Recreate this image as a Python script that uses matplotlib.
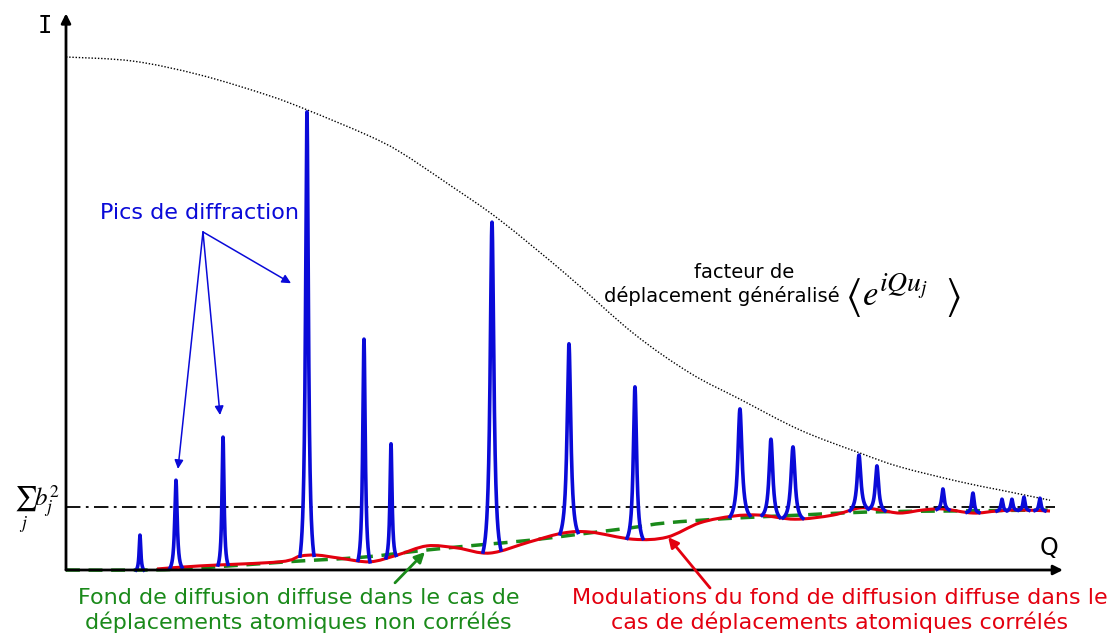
import numpy as np
import matplotlib
matplotlib.use("Agg")
import matplotlib.pyplot as plt
from matplotlib.path import Path
from matplotlib.patches import PathPatch

plt.rcParams['mathtext.fontset'] = 'stix'

# Bragg peaks: position Q, peak intensity, half width at the foot
peak_q = [0.742, 1.103, 1.575, 2.417, 2.989, 3.260, 4.273, 5.045, 5.707, 6.760,
          7.071, 7.292, 7.954, 8.134, 8.796, 9.097, 9.388, 9.488, 9.609, 9.769]
peak_i = [0.068, 0.175, 0.259, 0.893, 0.450, 0.246, 0.678, 0.441, 0.357, 0.314,
          0.255, 0.240, 0.224, 0.203, 0.158, 0.150, 0.138, 0.138, 0.142, 0.140]
peak_hw = [0.04, 0.06, 0.05, 0.07, 0.06, 0.05, 0.09, 0.09, 0.08, 0.10,
           0.09, 0.10, 0.09, 0.08, 0.06, 0.06, 0.05, 0.05, 0.05, 0.05]

# generalised displacement factor <exp(iQu_j)>
env_q = [0.0, 0.672, 1.344, 2.016, 2.417, 3.019, 3.350, 3.852, 4.353, 5.025,
         5.687, 6.259, 6.760, 7.362, 7.964, 8.365, 8.967, 9.368, 9.870]
env_i = [1.0, 0.992, 0.965, 0.926, 0.897, 0.848, 0.815, 0.750, 0.682, 0.575,
         0.462, 0.384, 0.333, 0.273, 0.228, 0.201, 0.172, 0.156, 0.136]

# diffuse background, uncorrelated displacements
unc_q = [0.0, 0.843, 1.344, 2.217, 2.979, 3.621, 4.152, 4.654, 5.155, 5.657,
         6.028, 6.690, 7.362, 8.034, 8.867, 9.920]
unc_i = [0.0, 0.0, 0.004, 0.016, 0.025, 0.039, 0.049, 0.058, 0.070, 0.082,
         0.092, 0.101, 0.107, 0.113, 0.115, 0.117]

# diffuse background, correlated displacements
cor_q = [0.913, 1.344, 2.146, 2.347, 2.518, 2.748, 3.049, 3.320, 3.621, 3.922,
         4.253, 4.654, 4.985, 5.256, 5.687, 6.028, 6.359, 6.690, 6.961, 7.312,
         7.693, 7.964, 8.164, 8.365, 8.596, 8.796, 9.097, 9.338, 9.569, 9.870]
cor_i = [0.002, 0.008, 0.016, 0.027, 0.029, 0.023, 0.016, 0.029, 0.047, 0.043,
         0.033, 0.055, 0.072, 0.074, 0.060, 0.064, 0.092, 0.105, 0.107, 0.099,
         0.107, 0.121, 0.117, 0.111, 0.117, 0.119, 0.111, 0.115, 0.117, 0.115]

sum_b2 = 0.123
q_max = 9.92

BLUE = '#0a0ad8'
RED = '#e3000f'
GREEN = '#1a8a1a'


def smooth_path(xs, ys):
    # Catmull-Rom through the points, written as cubic Bezier segments
    p = np.column_stack([xs, ys])
    ext = np.vstack([p[0], p, p[-1]])
    verts = [p[0]]
    codes = [Path.MOVETO]
    for i in range(1, len(ext) - 2):
        p0, p1, p2, p3 = ext[i - 1:i + 3]
        verts += [p1 + (p2 - p0) / 6, p2 - (p3 - p1) / 6, p2]
        codes += [Path.CURVE4] * 3
    return Path(verts, codes)


fig = plt.figure(figsize=(11.15, 6.41), dpi=100)
ax = fig.add_axes([0, 0, 1, 1])
ax.set_xlim(-0.662, 10.522)
ax.set_ylim(-0.1384, 1.1111)
ax.axis('off')

# axes with arrows
ax.annotate('', xy=(0, 1.085), xytext=(0, 0),
            arrowprops=dict(arrowstyle='-|>', lw=2, color='k', mutation_scale=14, shrinkA=0, shrinkB=0))
ax.annotate('', xy=(10.0, 0), xytext=(0, 0),
            arrowprops=dict(arrowstyle='-|>', lw=2, color='k', mutation_scale=14, shrinkA=0, shrinkB=0))
ax.text(-0.21, 1.06, 'I', fontsize=17, family='DejaVu Sans Mono', ha='center', va='center')
ax.text(9.86, 0.043, 'Q', fontsize=17, ha='center', va='center')
ax.text(-0.29, 0.118, r'$\sum_j b_j^2$', fontsize=18, ha='center', va='center')

# sum b_j^2 level and envelope
ax.plot([0, q_max], [sum_b2, sum_b2], color='k', lw=1.3, ls=(0, (8, 3, 1.5, 3)))
ax.add_patch(PathPatch(smooth_path(env_q, env_i), fill=False, ec='k', lw=1.0, ls=(0, (1, 1.3))))

# diffuse backgrounds
ax.add_patch(PathPatch(smooth_path(unc_q, unc_i), fill=False, ec=GREEN, lw=2.5, ls=(0, (4, 2.5))))
ax.add_patch(PathPatch(smooth_path(cor_q, cor_i), fill=False, ec=RED, lw=2.2))

# Bragg peaks sitting on the correlated background
for c, top, hw in zip(peak_q, peak_i, peak_hw):
    t = np.linspace(-hw, hw, 201)
    g = hw / 4
    lor = 1 / (1 + (t / g) ** 2)
    edge = 1 / (1 + (hw / g) ** 2)
    prof = (lor - edge) / (1 - edge)
    base = np.interp(c + t, cor_q, cor_i, left=0)
    base_c = np.interp(c, cor_q, cor_i, left=0)
    ax.plot(c + t, base + (top - base_c) * prof, color=BLUE, lw=2.6)

# annotations
ax.text(1.344, 0.696, 'Pics de diffraction', color=BLUE, fontsize=16, ha='center', va='center')
arrow_kw = dict(arrowstyle='-|>', lw=1.1, color=BLUE, mutation_scale=13, shrinkA=0, shrinkB=0)
for tip in [(2.257, 0.559), (1.123, 0.197), (1.545, 0.302)]:
    ax.annotate('', xy=tip, xytext=(1.374, 0.659), arrowprops=arrow_kw)

ax.text(6.80, 0.580, 'facteur de', fontsize=14, ha='center', va='center')
ax.text(6.58, 0.534, 'déplacement généralisé', fontsize=14, ha='center', va='center')
ax.text(7.894, 0.532, r'$\langle$', fontsize=30, ha='center', va='center')
ax.text(7.984, 0.517, r'$e$', fontsize=25, ha='left', va='baseline')
ax.text(8.150, 0.543, r'$iQu_j$', fontsize=20, ha='left', va='baseline')
ax.text(8.897, 0.532, r'$\rangle$', fontsize=30, ha='center', va='center')

ax.text(2.33, -0.054, 'Fond de diffusion diffuse dans le cas de', color=GREEN,
        fontsize=16, ha='center', va='center')
ax.text(2.33, -0.101, 'déplacements atomiques non corrélés', color=GREEN,
        fontsize=16, ha='center', va='center')
ax.annotate('', xy=(3.60, 0.035), xytext=(3.30, -0.025),
            arrowprops=dict(arrowstyle='-|>', lw=2, color=GREEN, mutation_scale=15, shrinkA=0, shrinkB=0))

ax.text(7.76, -0.054, 'Modulations du fond de diffusion diffuse dans le', color=RED,
        fontsize=16, ha='center', va='center')
ax.text(7.76, -0.101, 'cas de déplacements atomiques corrélés', color=RED,
        fontsize=16, ha='center', va='center')
ax.annotate('', xy=(6.04, 0.064), xytext=(6.46, -0.035),
            arrowprops=dict(arrowstyle='-|>', lw=2, color=RED, mutation_scale=15, shrinkA=0, shrinkB=0))

fig.savefig('out.png', dpi=100)
